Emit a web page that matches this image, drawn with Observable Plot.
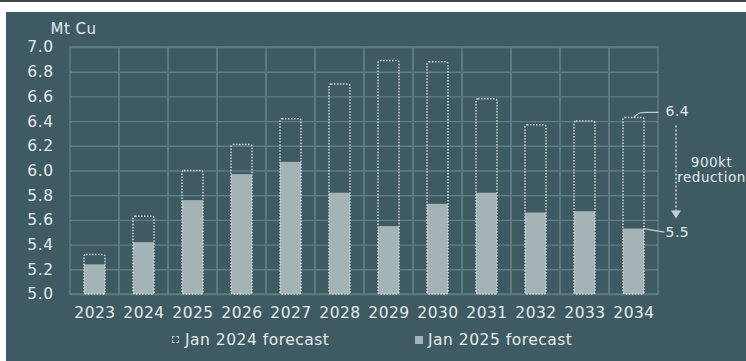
<!DOCTYPE html>
<html>
<head>
<meta charset="utf-8">
<script src="https://cdn.jsdelivr.net/npm/d3@7"></script>
<script src="https://cdn.jsdelivr.net/npm/@observablehq/plot@0.6"></script>
<style>
  html, body { margin: 0; padding: 0; background: #ffffff; width: 746px; height: 361px; overflow: hidden; }
  #topbar { position: absolute; left: 0; top: 0; width: 746px; height: 2px; background: #454545; }
  #panel { position: absolute; left: 6px; top: 12px; width: 740px; height: 349px; background: #3e5b63;
           font-family: "DejaVu Sans", sans-serif; color: #e4eaec; }
  #chart { position: absolute; left: 0; top: 0; }
  #legend { position: absolute; left: 0; top: 318px; width: 740px; height: 20px; font-size: 15.5px; letter-spacing: 0.5px; line-height: 20px; }
  .item { position: absolute; top: 0; white-space: nowrap; }
  .sw { display: inline-block; width: 6px; height: 6px; margin-right: 6px; vertical-align: 2px; }
  .sw.outline { border: 1px dashed #c9d3d5; width: 5px; height: 5px; }
  .sw.solid { background: #a3b3b6; width: 8px; height: 8px; margin-right: 5px; vertical-align: 1px; }
</style>
</head>
<body>
<div id="topbar"></div>
<div id="panel">
  <div id="chart"></div>
  <div id="legend"></div>
</div>
<script>
// ---- data ----
const years = ["2023","2024","2025","2026","2027","2028","2029","2030","2031","2032","2033","2034"];
const jan2024 = [5.32, 5.63, 6.00, 6.21, 6.42, 6.70, 6.89, 6.88, 6.58, 6.37, 6.40, 6.43];
const jan2025 = [5.24, 5.42, 5.76, 5.97, 6.07, 5.82, 5.55, 5.73, 5.82, 5.66, 5.67, 5.53];
const yTicks = [5.0, 5.2, 5.4, 5.6, 5.8, 6.0, 6.2, 6.4, 6.6, 6.8, 7.0];
const yBase = 5.0;
const yLabel = "Mt Cu";
const legendLabels = ["Jan 2024 forecast", "Jan 2025 forecast"];
const annoTop = "6.4";
const annoBottom = "5.5";
const annoMiddle = ["900kt", "reduction"];

// ---- colours ----
const gridColor = "#5f7d84";
const barColor = "#a3b3b6";
const outlineColor = "#cdd6d8";
const textColor = "#e4eaec";
const annoLine = "#c3cdcf";

const rows = years.map((year, i) => ({year, f24: jan2024[i], f25: jan2025[i]}));
const last = rows[rows.length - 1];

const annotationMark = (index, scales) => {
  const x = scales.x, y = scales.y;
  const bw = typeof x.bandwidth === "function" ? x.bandwidth() : 0;
  const cx = x(last.year) + bw / 2;
  const yTop = y(last.f24), yBot = y(last.f25);
  const g = d3.create("svg:g").attr("fill", "none").attr("stroke", annoLine).attr("stroke-width", 1.2);
  g.append("path").attr("d", `M${cx},${yTop} C${cx + 6},${yTop - 5} ${cx + 6},${yTop - 5} ${cx + 13},${yTop - 5} L${cx + 25},${yTop - 5}`);
  g.append("path").attr("d", `M${cx + 10},${yBot} L${cx + 31},${yBot + 3.5}`);
  const ax = cx + 42.5;
  g.append("path").attr("d", `M${ax},${yTop + 8} L${ax},${yBot - 16}`)
    .attr("stroke-dasharray", "2,2").attr("stroke-width", 1.6);
  g.append("path").attr("d", `M${ax - 5},${yBot - 18} L${ax + 5},${yBot - 18} L${ax},${yBot - 10} Z`)
    .attr("fill", annoLine).attr("stroke", "none");
  return g.node();
};

const chart = Plot.plot({
  width: 740,
  height: 320,
  marginTop: 35,
  marginLeft: 64,
  marginRight: 88,
  marginBottom: 38,
  style: {background: "transparent", color: textColor, fontFamily: "DejaVu Sans, sans-serif", fontSize: "15.5px", letterSpacing: "0.5px", overflow: "visible"},
  x: {domain: years, padding: 0, tickSize: 0, tickPadding: 12, label: null},
  y: {domain: [yBase, 7.0], ticks: yTicks, tickFormat: d3.format(".1f"), tickSize: 0, tickPadding: 17, label: null},
  marks: [
    Plot.ruleY(yTicks, {stroke: gridColor, strokeWidth: 1.4}),
    Plot.cell(years, {x: d => d, fill: "none", stroke: gridColor, strokeWidth: 1.4}),
    Plot.barY(rows, {x: "year", y1: () => yBase, y2: "f25", fill: barColor, insetLeft: 14, insetRight: 14}),
    Plot.barY(rows, {x: "year", y1: () => yBase, y2: "f24", fill: "none", stroke: outlineColor, strokeWidth: 1.5,
      strokeDasharray: "1.5,1.5", rx: 2, insetLeft: 14, insetRight: 14}),
    Plot.text([yLabel], {text: d => d, frameAnchor: "top-left", textAnchor: "start", dx: -20, dy: -24, fontSize: 15, fill: textColor}),
    Plot.text([last], {x: "year", y: "f24", text: () => annoTop, textAnchor: "start", dx: 31.5, dy: -6, fontSize: 14, fill: textColor}),
    Plot.text([last], {x: "year", y: "f25", text: () => annoBottom, textAnchor: "start", dx: 31.5, dy: 3.5, fontSize: 14, fill: textColor}),
    Plot.text([last], {x: "year", y: d => (d.f24 + d.f25) / 2, text: () => annoMiddle[0], textAnchor: "middle", dx: 77.5, dy: -11, fontSize: 13.5, fill: textColor}),
    Plot.text([last], {x: "year", y: d => (d.f24 + d.f25) / 2, text: () => annoMiddle[1], textAnchor: "middle", dx: 77.5, dy: 4, fontSize: 13.5, fill: textColor}),
    annotationMark
  ]
});
document.getElementById("chart").appendChild(chart);

// ---- legend ----
const legend = document.getElementById("legend");
const items = [{cls: "outline", left: 166, label: legendLabels[0]}, {cls: "solid", left: 409, label: legendLabels[1]}];
for (const it of items) {
  const span = document.createElement("span");
  span.className = "item";
  span.style.left = it.left + "px";
  const sw = document.createElement("span");
  sw.className = "sw " + it.cls;
  span.appendChild(sw);
  span.appendChild(document.createTextNode(it.label));
  legend.appendChild(span);
}
</script>
</body>
</html>
